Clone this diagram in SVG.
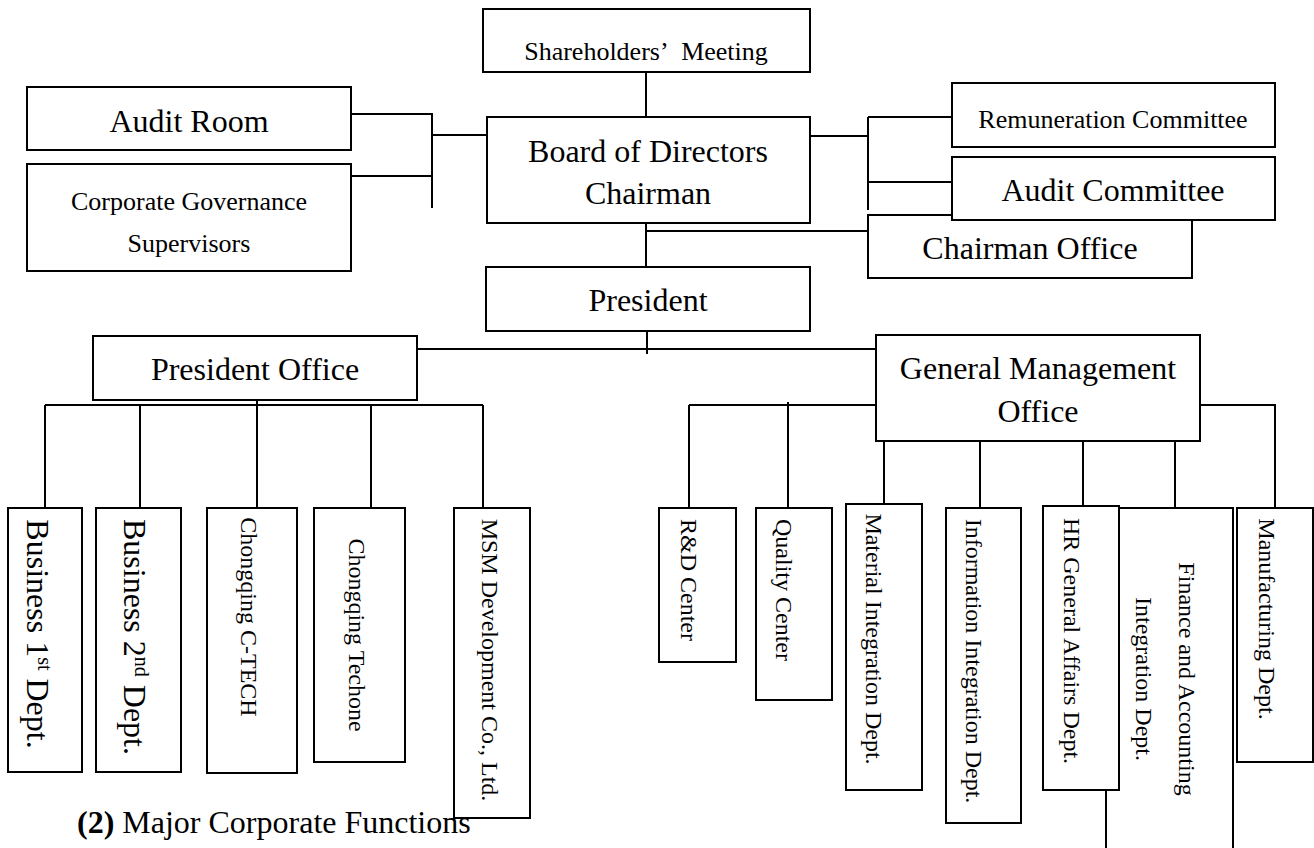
<svg xmlns="http://www.w3.org/2000/svg" width="1314" height="848" viewBox="0 0 1314 848">
  <style>
    .box { fill: #ffffff; stroke: #000000; stroke-width: 2; }
    .ln { fill: none; stroke: #000000; stroke-width: 2; }
    text { font-family: "Liberation Serif", "Times New Roman", serif; fill: #000000; }
    .c { text-anchor: middle; }
    .f32 { font-size: 32px; }
    .f26 { font-size: 26px; }
    .f24 { font-size: 24px; }
  </style>
  <rect width="1314" height="848" fill="#ffffff"/>

  <!-- connectors -->
  <g id="connectors" class="ln">
    <path d="M646 72 V117"/>
    <path d="M351 114 H432 V208 M351 176 H432 M432 135 H487"/>
    <path d="M810 136 H868 M868 117 V210 M868 117 H952 M868 182 H952"/>
    <path d="M646 223 V267 M646 231 H868"/>
    <path d="M647 331 V354 M417 349 H876"/>
    <path d="M257 400 V405 M45 405 H483 M45 405 V508 M140 405 V508 M257 405 V508 M371 405 V508 M483 405 V508"/>
    <path d="M689 405 H876 M689 405 V508 M788 402 V508"/>
    <path d="M884 441 V504 M980 441 V508 M1083 441 V506 M1175 441 V508"/>
    <path d="M1200 405 H1275 V508"/>
  </g>

  <!-- upper governance -->
  <g id="shareholders">
    <rect class="box" x="483" y="9" width="327" height="63"/>
    <text class="c f26" x="646" y="60">Shareholders’ <tspan dx="8">Meeting</tspan></text>
  </g>
  <g id="audit-room">
    <rect class="box" x="27" y="87" width="324" height="63"/>
    <text class="c f32" x="189" y="132">Audit Room</text>
  </g>
  <g id="corporate-governance">
    <rect class="box" x="27" y="164" width="324" height="107"/>
    <text class="c f26" x="189" y="210">Corporate Governance</text>
    <text class="c f26" x="189" y="252">Supervisors</text>
  </g>
  <g id="board">
    <rect class="box" x="487" y="117" width="323" height="106"/>
    <text class="c f32" x="648" y="162">Board of Directors</text>
    <text class="c f32" x="648" y="204">Chairman</text>
  </g>
  <g id="remuneration-committee">
    <rect class="box" x="952" y="83" width="323" height="64"/>
    <text class="c f26" x="1113" y="128">Remuneration Committee</text>
  </g>
  <g id="chairman-office">
    <rect class="box" x="868" y="215" width="324" height="63"/>
    <text class="c f32" x="1030" y="259">Chairman Office</text>
  </g>
  <g id="audit-committee">
    <rect class="box" x="952" y="157" width="323" height="63"/>
    <text class="c f32" x="1113" y="201">Audit Committee</text>
  </g>
  <g id="president">
    <rect class="box" x="486" y="267" width="324" height="64"/>
    <text class="c f32" x="648" y="311">President</text>
  </g>
  <g id="president-office">
    <rect class="box" x="93" y="336" width="324" height="64"/>
    <text class="c f32" x="255" y="380">President Office</text>
  </g>
  <g id="general-management-office">
    <rect class="box" x="876" y="335" width="324" height="106"/>
    <text class="c f32" x="1038" y="379">General Management</text>
    <text class="c f32" x="1038" y="422">Office</text>
  </g>

  <!-- units under the President Office -->
  <g id="business-1">
    <rect class="box" x="8" y="508" width="74" height="264"/>
    <text class="c f32" transform="translate(27 634) rotate(90)">Business 1<tspan font-size="20" dy="-11">st</tspan><tspan dy="11"> Dept.</tspan></text>
  </g>
  <g id="business-2">
    <rect class="box" x="96" y="508" width="85" height="264"/>
    <text class="c f32" transform="translate(124 637) rotate(90)">Business 2<tspan font-size="20" dy="-11">nd</tspan><tspan dy="11"> Dept.</tspan></text>
  </g>
  <g id="chongqing-ctech">
    <rect class="box" x="207" y="508" width="90" height="265"/>
    <text class="c f24" transform="translate(241 617) rotate(90)">Chongqing C-TECH</text>
  </g>
  <g id="chongqing-techone">
    <rect class="box" x="314" y="508" width="91" height="254"/>
    <text class="c f24" transform="translate(349 635) rotate(90)">Chongqing Techone</text>
  </g>
  <g id="msm-development">
    <rect class="box" x="454" y="508" width="76" height="310"/>
    <text class="c f24" transform="translate(482 660) rotate(90)">MSM Development Co., Ltd.</text>
  </g>

  <!-- units under the General Management Office -->
  <g id="rd-center">
    <rect class="box" x="659" y="508" width="77" height="154"/>
    <text class="c f24" transform="translate(681 580) rotate(90)">R&amp;D Center</text>
  </g>
  <g id="quality-center">
    <rect class="box" x="756" y="508" width="76" height="192"/>
    <text class="c f24" transform="translate(776 590) rotate(90)">Quality Center</text>
  </g>
  <g id="material-integration">
    <rect class="box" x="846" y="504" width="76" height="286"/>
    <text class="c f24" transform="translate(866 639) rotate(90)">Material Integration Dept.</text>
  </g>
  <g id="information-integration">
    <rect class="box" x="946" y="508" width="75" height="315"/>
    <text class="c f24" transform="translate(966 661) rotate(90)">Information Integration Dept.</text>
  </g>
  <g id="finance-accounting">
    <rect class="box" x="1106" y="508" width="127" height="360"/>
    <text class="c f24" transform="translate(1179 679) rotate(90)">Finance and Accounting</text>
    <text class="c f24" transform="translate(1136 679) rotate(90)">Integration Dept.</text>
  </g>
  <g id="hr-general-affairs">
    <rect class="box" x="1043" y="506" width="76" height="284"/>
    <text class="c f24" transform="translate(1064 641) rotate(90)">HR General Affairs Dept.</text>
  </g>
  <g id="manufacturing">
    <rect class="box" x="1237" y="508" width="76" height="254"/>
    <text class="c f24" transform="translate(1259 619) rotate(90)">Manufacturing Dept.</text>
  </g>

  <!-- section heading -->
  <text class="f32" x="77" y="833"><tspan font-weight="bold">(2)</tspan> Major Corporate Functions</text>
</svg>
